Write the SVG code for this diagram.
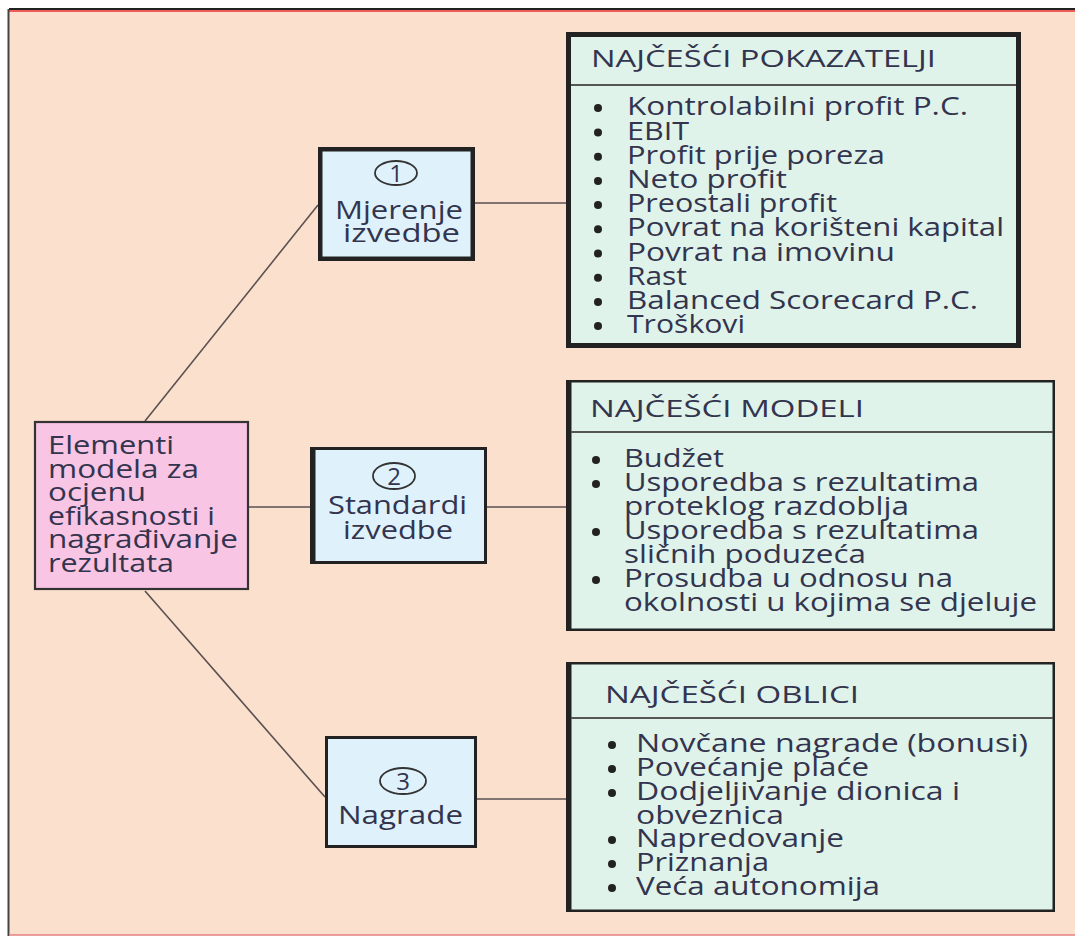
<svg xmlns="http://www.w3.org/2000/svg" width="1075" height="936" viewBox="0 0 1075 936">
<style>
.t{font-family:"Open Sans","Liberation Sans",sans-serif;fill:#33344e;font-size:26px}
.h{font-family:"Open Sans","Liberation Sans",sans-serif;fill:#33344e;font-size:24px}
.n{font-family:"Open Sans","Liberation Sans",sans-serif;fill:#33344e;font-size:24px;text-anchor:middle}
.conn{stroke:#5a5050;stroke-width:1.6;fill:none}
.blue{fill:#dff2fb;stroke:#222}
.green{fill:#e0f3ea;stroke:#222}
.sep{stroke:#555;stroke-width:2}
.ell{fill:none;stroke:#333;stroke-width:1.8}
</style>
<rect x="0" y="0" width="1075" height="936" fill="#ffffff"/>
<rect x="9" y="10" width="1066" height="925" fill="#fce0ce"/>
<line x1="9" y1="9" x2="1075" y2="9" stroke="#222" stroke-width="2"/>
<line x1="9" y1="11" x2="1075" y2="11" stroke="#e83030" stroke-width="1.5"/>
<line x1="8.5" y1="9" x2="8.5" y2="936" stroke="#444" stroke-width="2"/>
<line x1="9" y1="935" x2="1075" y2="935" stroke="#e88080" stroke-width="1.5"/>

<g id="connectors">
<line class="conn" x1="145" y1="421" x2="318" y2="205"/>
<line class="conn" x1="249" y1="507" x2="310" y2="507"/>
<line class="conn" x1="145" y1="591" x2="325" y2="797"/>
<line class="conn" x1="475" y1="203" x2="566" y2="203"/>
<line class="conn" x1="487" y1="507" x2="566" y2="507"/>
<line class="conn" x1="477" y1="799" x2="566" y2="799"/>
</g>

<g id="root">
<rect x="35" y="422" width="213" height="167" fill="#f9c5e4" stroke="#333" stroke-width="2.2"/>
<text class="t" x="48" y="454" textLength="126" lengthAdjust="spacingAndGlyphs">Elementi</text>
<text class="t" x="48" y="477.6" textLength="151" lengthAdjust="spacingAndGlyphs">modela za</text>
<text class="t" x="48" y="501" textLength="98" lengthAdjust="spacingAndGlyphs">ocjenu</text>
<text class="t" x="48" y="525" textLength="167" lengthAdjust="spacingAndGlyphs">efikasnosti i</text>
<text class="t" x="48" y="548.4" textLength="190" lengthAdjust="spacingAndGlyphs">nagrađivanje</text>
<text class="t" x="48" y="572" textLength="126" lengthAdjust="spacingAndGlyphs">rezultata</text>
</g>

<g id="node1">
<rect class="blue" x="320.25" y="149.25" width="152.5" height="109.5" stroke-width="4.5"/>
<ellipse class="ell" cx="396" cy="173" rx="21" ry="12"/>
<text class="n" x="396" y="181.5">1</text>
<text class="t" x="335" y="219" textLength="128" lengthAdjust="spacingAndGlyphs">Mjerenje</text>
<text class="t" x="343" y="242" textLength="117" lengthAdjust="spacingAndGlyphs">izvedbe</text>
</g>

<g id="node2">
<rect class="blue" x="311.5" y="448.5" width="174" height="114" stroke-width="3"/>
<rect x="310" y="447" width="5.5" height="117" fill="#222"/>
<ellipse class="ell" cx="394" cy="476" rx="21" ry="13"/>
<text class="n" x="394" y="484.5">2</text>
<text class="t" x="328" y="514" textLength="139" lengthAdjust="spacingAndGlyphs">Standardi</text>
<text class="t" x="343" y="539" textLength="110" lengthAdjust="spacingAndGlyphs">izvedbe</text>
</g>

<g id="node3">
<rect class="blue" x="326.5" y="737.5" width="149" height="109" stroke-width="3"/>
<ellipse class="ell" cx="403" cy="781" rx="23" ry="13"/>
<text class="n" x="403" y="789.5">3</text>
<text class="t" x="338" y="824" textLength="125" lengthAdjust="spacingAndGlyphs">Nagrade</text>
</g>

<g id="boxA">
<rect class="green" x="568.5" y="34.5" width="450" height="311" stroke-width="5"/>
<line class="sep" x1="571" y1="85" x2="1016" y2="85"/>
<text class="h" x="591" y="67" textLength="345" lengthAdjust="spacingAndGlyphs">NAJČEŠĆI POKAZATELJI</text>
<g fill="#222">
<circle cx="598" cy="108" r="4"/><circle cx="598" cy="132.5" r="4"/><circle cx="598" cy="156.7" r="4"/><circle cx="598" cy="180.9" r="4"/><circle cx="598" cy="205" r="4"/><circle cx="598" cy="229.3" r="4"/><circle cx="598" cy="253.5" r="4"/><circle cx="598" cy="277.7" r="4"/><circle cx="598" cy="301.9" r="4"/><circle cx="598" cy="326" r="4"/>
</g>
<text class="t" x="627" y="115" textLength="341" lengthAdjust="spacingAndGlyphs">Kontrolabilni profit P.C.</text>
<text class="t" x="627" y="139.5" textLength="62" lengthAdjust="spacingAndGlyphs">EBIT</text>
<text class="t" x="627" y="163.7" textLength="258" lengthAdjust="spacingAndGlyphs">Profit prije poreza</text>
<text class="t" x="627" y="187.9" textLength="160" lengthAdjust="spacingAndGlyphs">Neto profit</text>
<text class="t" x="627" y="212" textLength="210" lengthAdjust="spacingAndGlyphs">Preostali profit</text>
<text class="t" x="627" y="236.3" textLength="377" lengthAdjust="spacingAndGlyphs">Povrat na korišteni kapital</text>
<text class="t" x="627" y="260.5" textLength="268" lengthAdjust="spacingAndGlyphs">Povrat na imovinu</text>
<text class="t" x="627" y="284.7" textLength="60" lengthAdjust="spacingAndGlyphs">Rast</text>
<text class="t" x="627" y="308.9" textLength="351" lengthAdjust="spacingAndGlyphs">Balanced Scorecard P.C.</text>
<text class="t" x="627" y="333" textLength="118" lengthAdjust="spacingAndGlyphs">Troškovi</text>
</g>

<g id="boxB">
<rect class="green" x="567.25" y="381.25" width="486.5" height="248.5" stroke-width="2.5"/>
<rect x="566" y="380" width="5.5" height="251" fill="#222"/>
<line class="sep" x1="571" y1="432" x2="1053" y2="432"/>
<text class="h" x="590" y="417" textLength="274" lengthAdjust="spacingAndGlyphs">NAJČEŠĆI MODELI</text>
<g fill="#222">
<circle cx="596" cy="460" r="4"/><circle cx="596" cy="484" r="4"/><circle cx="596" cy="532" r="4"/><circle cx="596" cy="580" r="4"/>
</g>
<text class="t" x="624" y="467" textLength="100" lengthAdjust="spacingAndGlyphs">Budžet</text>
<text class="t" x="624" y="491" textLength="355" lengthAdjust="spacingAndGlyphs">Usporedba s rezultatima</text>
<text class="t" x="624" y="515" textLength="285" lengthAdjust="spacingAndGlyphs">proteklog razdoblja</text>
<text class="t" x="624" y="539" textLength="355" lengthAdjust="spacingAndGlyphs">Usporedba s rezultatima</text>
<text class="t" x="624" y="563" textLength="242" lengthAdjust="spacingAndGlyphs">sličnih poduzeća</text>
<text class="t" x="624" y="587" textLength="329" lengthAdjust="spacingAndGlyphs">Prosudba u odnosu na</text>
<text class="t" x="624" y="611" textLength="413" lengthAdjust="spacingAndGlyphs">okolnosti u kojima se djeluje</text>
</g>

<g id="boxC">
<rect class="green" x="567.25" y="663.25" width="486.5" height="247.5" stroke-width="2.5"/>
<rect x="566" y="662" width="5.5" height="250" fill="#222"/>
<line class="sep" x1="571" y1="718" x2="1053" y2="718"/>
<text class="h" x="605" y="703" textLength="254" lengthAdjust="spacingAndGlyphs">NAJČEŠĆI OBLICI</text>
<g fill="#222">
<circle cx="612" cy="745" r="4"/><circle cx="612" cy="769" r="4"/><circle cx="612" cy="793" r="4"/><circle cx="612" cy="840" r="4"/><circle cx="612" cy="864" r="4"/><circle cx="612" cy="888" r="4"/>
</g>
<text class="t" x="636" y="752" textLength="392" lengthAdjust="spacingAndGlyphs">Novčane nagrade (bonusi)</text>
<text class="t" x="636" y="776" textLength="233" lengthAdjust="spacingAndGlyphs">Povećanje plaće</text>
<text class="t" x="636" y="800" textLength="324" lengthAdjust="spacingAndGlyphs">Dodjeljivanje dionica i</text>
<text class="t" x="636" y="823.5" textLength="148" lengthAdjust="spacingAndGlyphs">obveznica</text>
<text class="t" x="636" y="847" textLength="208" lengthAdjust="spacingAndGlyphs">Napredovanje</text>
<text class="t" x="636" y="871" textLength="133" lengthAdjust="spacingAndGlyphs">Priznanja</text>
<text class="t" x="636" y="895" textLength="244" lengthAdjust="spacingAndGlyphs">Veća autonomija</text>
</g>
</svg>
